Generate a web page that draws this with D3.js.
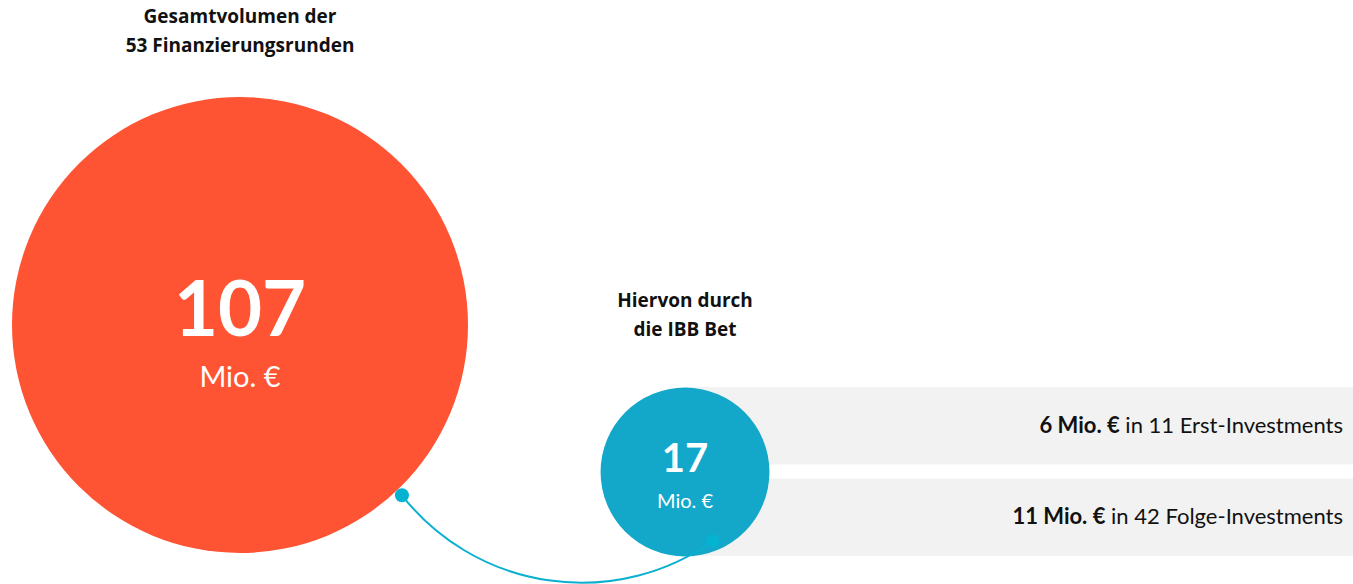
<!DOCTYPE html>
<html>
<head>
<meta charset="utf-8">
<script src="https://cdn.jsdelivr.net/npm/d3@7"></script>
<style>
  body { margin: 0; background: #fff; }
  svg { display: block; font-family: Lato, "Open Sans", sans-serif; }
</style>
</head>
<body>
<svg id="chart" width="1353" height="584"></svg>
<script>
// values in Mio. €
const totals = [107, 17];
const totalTitles = [["Gesamtvolumen der", "53 Finanzierungsrunden"], ["Hiervon durch", "die IBB Bet"]];
const unit = "Mio. €";
const splitValues = [6, 11];
const splitCounts = [11, 42];
const splitTypes = ["Erst-Investments", "Folge-Investments"];

const svg = d3.select("#chart");

// radius scale (reference circles are roughly area-proportional)
const r = d3.scalePow().exponent(0.54).domain([0, d3.max(totals)]).range([0, 228]);

const centers = [[240, 325], [685, 472]];
const fills = ["#ff5434", "#13a8c9"];
const numSize = [76, 40], unitSize = [29, 20];
const numY = [11, 0], unitY = [62, 36];

// split boxes behind the small circle
const y = d3.scaleBand().domain(d3.range(splitValues.length)).range([387, 556]).paddingInner(0.155);
const boxes = svg.append("g");
boxes.selectAll("rect")
  .data(splitValues)
  .enter().append("rect")
  .attr("x", centers[1][0])
  .attr("y", (d, i) => y(i))
  .attr("width", 1353 - centers[1][0])
  .attr("height", y.bandwidth())
  .attr("fill", "#f2f2f2");

let label = boxes.selectAll("text")
  .data(splitValues)
  .enter().append("text")
  .attr("x", 1343)
  .attr("y", (d, i) => y(i) + y.bandwidth() / 2 + 7)
  .attr("text-anchor", "end")
  .attr("font-size", 22)
  .attr("fill", "#111");
label.append("tspan").attr("font-weight", "bold").text(d => d + " " + unit);
label.append("tspan").text((d, i) => " in " + splitCounts[i] + " " + splitTypes[i]);

// circles
const bubbles = svg.selectAll("g.bubble")
  .data(totals)
  .enter().append("g")
  .attr("class", "bubble")
  .attr("transform", (d, i) => "translate(" + centers[i] + ")");

bubbles.append("circle")
  .attr("r", d => r(d))
  .attr("fill", (d, i) => fills[i]);

bubbles.append("text")
  .attr("text-anchor", "middle")
  .attr("y", (d, i) => numY[i])
  .attr("font-weight", "bold")
  .attr("font-size", (d, i) => numSize[i])
  .attr("fill", "#fff")
  .text(d => d);

bubbles.append("text")
  .attr("text-anchor", "middle")
  .attr("y", (d, i) => unitY[i])
  .attr("font-size", (d, i) => unitSize[i])
  .attr("fill", "#fff")
  .text(unit);

// titles over the circles
bubbles.each(function(d, i) {
  let t = d3.select(this).append("text")
    .attr("text-anchor", "middle")
    .attr("font-family", "'Open Sans', sans-serif")
    .attr("font-weight", "bold")
    .attr("font-size", 19)
    .attr("fill", "#111");
  totalTitles[i].forEach((line, j) => {
    t.append("tspan").attr("x", 0)
      .attr("y", (i == 0 ? -302 : -165) + j * 28.5)
      .text(line);
  });
});

// connector from the big circle to the small one
const a0 = Math.PI * 0.258;
const p0 = [centers[0][0] + (r(totals[0]) + 7) * Math.cos(a0), centers[0][1] + (r(totals[0]) + 7) * Math.sin(a0)];
const p1 = [centers[1][0] + 28, centers[1][1] + 69];
svg.append("path")
  .attr("d", "M" + p0 + " A228,228 0 0 0 " + p1)
  .attr("fill", "none")
  .attr("stroke", "#0ab0cf")
  .attr("stroke-width", 2);
svg.selectAll("circle.dot")
  .data([p0, p1])
  .enter().append("circle")
  .attr("class", "dot")
  .attr("cx", d => d[0])
  .attr("cy", d => d[1])
  .attr("r", 7)
  .attr("fill", "#05b2d0");
</script>
</body>
</html>
